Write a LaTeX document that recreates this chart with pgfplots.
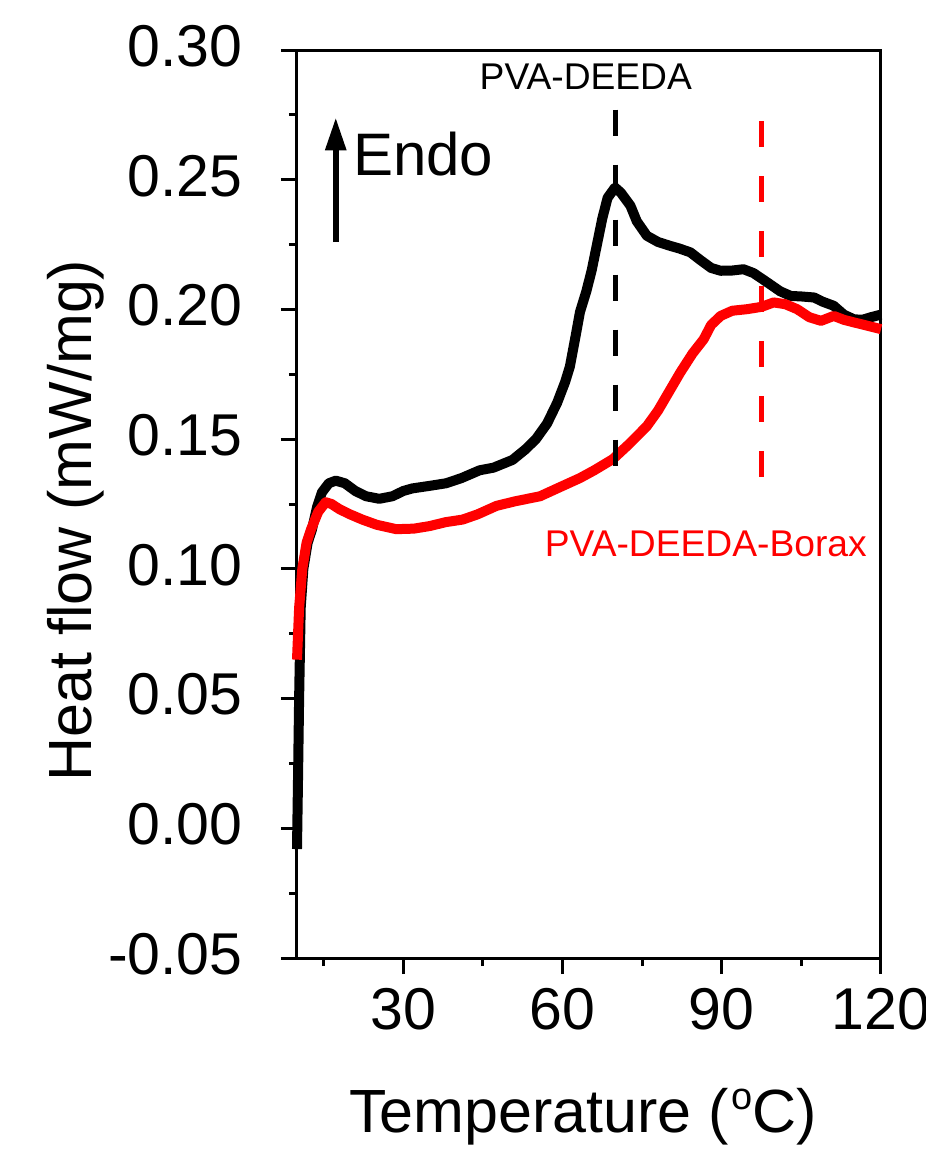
\documentclass[border=0pt]{standalone}
\usepackage{fontspec}
\setmainfont{Liberation Sans}
\usepackage{pgfplots}
\pgfplotsset{compat=1.18}
\usetikzlibrary{arrows.meta}
\begin{document}
\begin{tikzpicture}
\path[use as bounding box] (-148.5pt,-100pt) rectangle (314.5pt,479pt);
\begin{axis}[
  at={(0,0)}, anchor=south west,
  scale only axis, width=292pt, height=454pt,
  xmin=10, xmax=120, ymin=-0.05, ymax=0.30,
  xtick={0,30,60,90,120}, minor x tick num=1,
  ytick={-0.05,0,0.05,0.10,0.15,0.20,0.25,0.30}, minor y tick num=1,
  tick align=outside, tick pos=left,
  axis line style={line width=1.5pt},
  every tick/.style={black, line width=1.5pt},
  major tick length=8pt, minor tick length=4pt,
  tick label style={font=\fontsize{29.5}{36}\selectfont},
  /pgf/number format/assume math mode=true,
  yticklabel style={/pgf/number format/fixed, /pgf/number format/fixed zerofill, /pgf/number format/precision=2, anchor=east, inner sep=0pt, xshift=-19pt, yshift=2pt},
  xticklabel style={anchor=north, inner sep=0pt, yshift=-7pt},
  xlabel={Temperature (\hspace{1pt}\raisebox{11.5pt}{\fontsize{19}{19}\selectfont o}C)},
  ylabel={Heat flow (mW/mg)},
  xlabel style={font=\fontsize{30.5}{36}\selectfont, at={(rel axis cs:0,0)}, anchor=base west, inner sep=0pt, xshift=26pt, yshift=-87pt},
  ylabel style={font=\fontsize{30.5}{36}\selectfont, at={(rel axis cs:0,0)}, anchor=base west, inner sep=0pt, xshift=88pt, yshift=102.5pt},
  clip=false,
]
\addplot[black, line width=5pt, line join=round] coordinates {
(10.0,-0.008) (10.2,0.02) (10.4,0.05) (10.7,0.085) (11.2,0.100) (12.0,0.110) (12.8,0.115)
(13.8,0.124) (14.7,0.1295) (16.0,0.133) (17.3,0.134) (19,0.133) (21,0.130) (23,0.128)
(25.5,0.127) (28,0.128) (30,0.130) (31.7,0.131) (35,0.132) (38.1,0.133) (41,0.135)
(44.4,0.138) (47,0.139) (50.6,0.142) (53,0.146) (55,0.150) (57.1,0.156) (59,0.164)
(60.5,0.172) (61.4,0.178) (62.5,0.190) (63.3,0.199) (64.5,0.207) (65.5,0.215) (66.5,0.225)
(67.5,0.235) (68.5,0.243) (69.9,0.247) (71,0.245) (72.8,0.240) (74,0.234) (75.9,0.2284)
(78,0.226) (80.3,0.2245) (82,0.2235) (84.1,0.222) (86,0.219) (88,0.216) (89.8,0.2149)
(92,0.215) (94.1,0.2155) (96,0.214) (98.6,0.2104) (101,0.207) (103,0.2052) (105,0.205)
(107.4,0.2046) (109,0.203) (111.1,0.2014) (113,0.198) (114.9,0.1962) (116.5,0.196)
(118.1,0.197) (120,0.198)
};
\addplot[red, line width=5pt, line join=round] coordinates {
(10.0,0.065) (10.4,0.085) (11,0.100) (11.8,0.110) (12.6,0.115) (14,0.122) (15.4,0.1257)
(16.5,0.125) (18,0.123) (20,0.121) (22.3,0.119) (25,0.117) (28.7,0.1153) (32,0.1155)
(35,0.1165) (38,0.118) (41.2,0.119) (44,0.121) (47.6,0.1243) (51,0.126) (55.8,0.128)
(59,0.131) (63.3,0.135) (66,0.138) (69.5,0.1423) (72.5,0.148) (75.9,0.155) (78,0.161)
(80,0.168) (82.2,0.1757) (84.5,0.183) (86.6,0.1885) (88,0.194) (89.8,0.1975) (92,0.1995)
(94.8,0.2001) (97.5,0.201) (99.8,0.2027) (102,0.202) (104.2,0.2001) (106.5,0.197)
(108.7,0.1956) (111.1,0.1975) (113,0.196) (114.9,0.195) (117.5,0.1937) (120,0.1924)
};
\addplot[black, line width=2.5pt, dash pattern=on 13pt off 14.5pt] coordinates {(70,0.277) (70,0.1365)};
\addplot[red, line width=2.5pt, dash pattern=on 13pt off 14.5pt] coordinates {(97.5,0.2726) (97.5,0.1326)};
\node[inner sep=0pt, anchor=center, font=\fontsize{18.6}{22}\selectfont] at (axis cs:64.4,0.2897) {PVA-DEEDA};
\node[inner sep=0pt, anchor=center, text=red, font=\fontsize{18.6}{22}\selectfont] at (axis cs:87.0,0.1095) {PVA-DEEDA-Borax};
\node[inner sep=0pt, anchor=base west, font=\fontsize{30}{34}\selectfont] at (axis cs:20.5,0.2517) {Endo};
\draw[line width=3pt, -{Triangle[length=16.5pt, width=10pt]}] (axis cs:17.3,0.2259) -- (axis cs:17.3,0.274);
\end{axis}
\end{tikzpicture}
\end{document}
